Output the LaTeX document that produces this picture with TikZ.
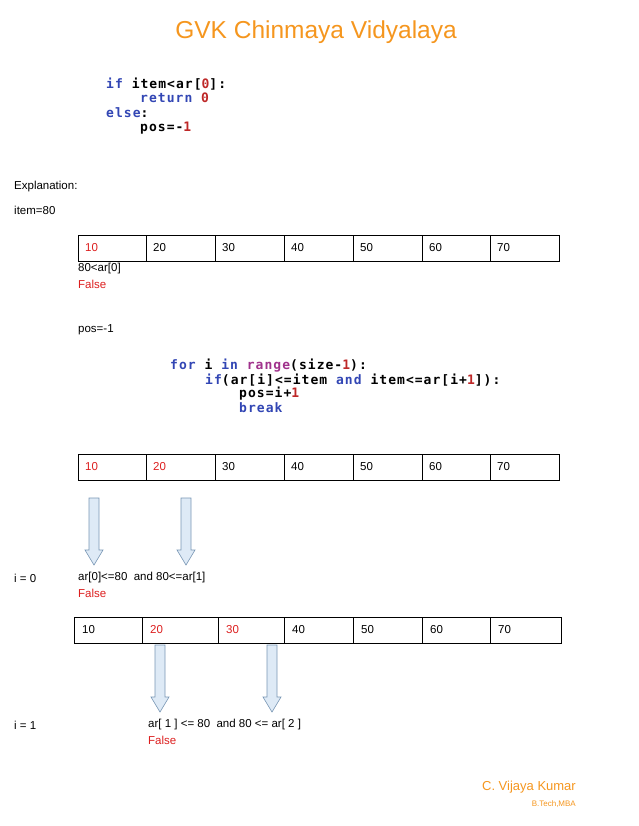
\documentclass[tikz,border=0pt]{standalone}
\usepackage{fontspec}
\setmainfont{Liberation Sans}
\newfontfamily\codefont[LetterSpace=8]{DejaVu Sans Mono}
\definecolor{orng}{RGB}{245,150,30}
\definecolor{kw}{RGB}{50,70,180}
\definecolor{num}{RGB}{190,40,40}
\definecolor{purp}{RGB}{160,50,140}
\definecolor{redt}{RGB}{220,30,30}
\definecolor{arrfill}{RGB}{222,234,246}
\definecolor{arrdraw}{RGB}{120,150,180}
\begin{document}
\begin{tikzpicture}[x=1pt,y=-1pt,
 txt/.style={anchor=west,inner sep=0,font=\fontsize{11.5}{13}\selectfont},
 codetxt/.style={anchor=west,inner sep=0,font=\codefont\fontsize{13}{14}\selectfont\bfseries},
 cellbox/.style={draw,line width=0.8pt},
 downarr/.pic={\draw[draw=arrdraw,fill=arrfill,line width=0.6pt] (-5,0) -- (5,0) -- (5,52) -- (9,52) -- (0,67) -- (-9,52) -- (-5,52) -- cycle;}]
\useasboundingbox (0,0) rectangle (638,826);
\node[font=\fontsize{24.5}{28}\selectfont,text=orng] (title) at (316,32) {GVK Chinmaya Vidyalaya};
% code 1
\node[codetxt] (c1) at (106,84) {\textcolor{kw}{if} item<ar[\textcolor{num}{0}]:};
\node[codetxt] (c2) at (140,98) {\textcolor{kw}{return} \textcolor{num}{0}};
\node[codetxt] (c3) at (106,113) {\textcolor{kw}{else}:};
\node[codetxt] (c4) at (140,128) {pos=-\textcolor{num}{1}};
\node[txt] (ex) at (14,187) {Explanation:};
\node[txt] (it) at (14,210) {item=80};
% array 1
\foreach \a/\b/\v [count=\k] in {78/146/10,146/215/20,215/284/30,284/353/40,353/422/50,422/490/60,490/559/70}{
  \draw[cellbox] (\a,235) rectangle (\b,261);
  \node[txt] (a1v\k) at (\a+7,248) {\ifnum\k=1 \textcolor{redt}{\v}\else\v\fi};
}
\node[txt] (t1) at (78,269) {80<ar[0]};
\node[txt,text=redt] (t2) at (78,284) {False};
\node[txt] (t3) at (78,330) {pos=-1};
% code 2
\node[codetxt] (d1) at (170,366) {\textcolor{kw}{for} i \textcolor{kw}{in} \textcolor{purp}{range}(size-\textcolor{num}{1}):};
\node[codetxt] (d2) at (205,380) {\textcolor{kw}{if}(ar[i]<=item \textcolor{kw}{and} item<=ar[i+\textcolor{num}{1}]):};
\node[codetxt] (d3) at (239,394) {pos=i+\textcolor{num}{1}};
\node[codetxt] (d4) at (239,408) {\textcolor{kw}{break}};
% array 2
\foreach \a/\b/\v [count=\k] in {78/146/10,146/215/20,215/284/30,284/353/40,353/422/50,422/490/60,490/559/70}{
  \draw[cellbox] (\a,454) rectangle (\b,480);
  \node[txt] (a2v\k) at (\a+7,467) {\ifnum\k<3 \textcolor{redt}{\v}\else\v\fi};
}
\pic at (94,498) {downarr};
\pic at (186,498) {downarr};
\node[txt] (i0) at (14,578) {i = 0};
\node[txt] (u1) at (78,578) {ar[0]<=80~ and 80<=ar[1]};
\node[txt,text=redt] (u2) at (78,593) {False};
% array 3
\foreach \a/\b/\v [count=\k] in {74/142/10,142/218/20,218/284/30,284/353/40,353/422/50,422/490/60,490/561/70}{
  \draw[cellbox] (\a,617) rectangle (\b,643);
  \node[txt] (a3v\k) at (\a+8,630) {\ifnum\k=2 \textcolor{redt}{\v}\else\ifnum\k=3 \textcolor{redt}{\v}\else\v\fi\fi};
}
\pic at (160,645) {downarr};
\pic at (272,645) {downarr};
\node[txt] (i1) at (14,725) {i = 1};
\node[txt] (w1) at (148,725) {ar[ 1 ] <= 80~ and 80 <= ar[ 2 ]};
\node[txt,text=redt] (w2) at (148,740) {False};
\node[anchor=east,inner sep=0,text=orng,font=\fontsize{13}{15}\selectfont] (au) at (576,787) {C. Vijaya Kumar};
\node[anchor=east,inner sep=0,text=orng,font=\fontsize{8}{9}\selectfont] (deg) at (576,804) {B.Tech,MBA};
\end{tikzpicture}
\end{document}
